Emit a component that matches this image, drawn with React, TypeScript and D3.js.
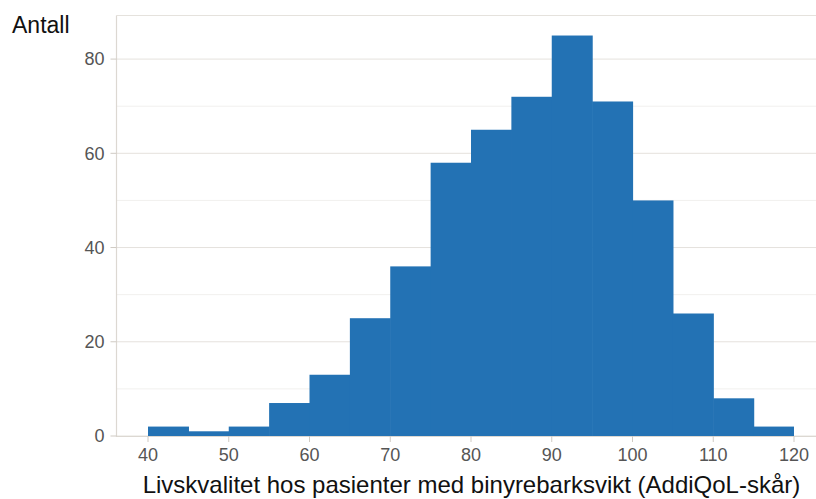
import React from "react";
import * as d3 from "d3";

const binStarts = [40, 45, 50, 55, 60, 65, 70, 75, 80, 85, 90, 95, 100, 105, 110, 115];
const binWidth = 5;
const counts = [2, 1, 2, 7, 13, 25, 36, 58, 65, 72, 85, 71, 50, 26, 8, 2];
const xTicks = [40, 50, 60, 70, 80, 90, 100, 110, 120];
const yTicks = [0, 20, 40, 60, 80];
const yMinor = [10, 30, 50, 70];
const yLabel = "Antall";
const xLabel = "Livskvalitet hos pasienter med binyrebarksvikt (AddiQoL-skår)";

const W = 816;
const H = 499;
const left = 116.5;
const top = 15.5;
const bottom = 436;

export default function App() {
  const x = d3.scaleLinear().domain([40, 120]).range([148, 794]);
  const y = d3.scaleLinear().domain([0, 89.25]).range([bottom, top]);
  const font = "Arial, 'Liberation Sans', Helvetica, sans-serif";
  return (
    <svg width={W} height={H} style={{ position: "absolute", left: 0, top: 0 }} fontFamily={font}>
      <rect width={W} height={H} fill="#fff" />
      {yMinor.map((t) => (
        <line key={"m" + t} x1={left} x2={W} y1={y(t)} y2={y(t)} stroke="#f1f0ee" strokeWidth={1} />
      ))}
      {yTicks.map((t) => (
        <line key={"g" + t} x1={left} x2={W} y1={y(t)} y2={y(t)} stroke="#e5e2dd" strokeWidth={1} />
      ))}
      <line x1={left} x2={W} y1={top} y2={top} stroke="#e5e2dd" strokeWidth={1} />
      {binStarts.map((b, i) => (
        <rect
          key={b}
          x={x(b)}
          width={x(b + binWidth) - x(b) + (i < binStarts.length - 1 ? 0.6 : 0)}
          y={y(counts[i])}
          height={y(0) - y(counts[i])}
          fill="#2372b4"
        />
      ))}
      <line x1={left} x2={left} y1={top} y2={bottom + 1} stroke="#dcd8d2" strokeWidth={1.2} />
      <line x1={left} x2={W} y1={bottom + 0.5} y2={bottom + 0.5} stroke="#dcd8d2" strokeWidth={1.2} />
      {yTicks.map((t) => (
        <g key={"yt" + t}>
          <line x1={left - 6} x2={left} y1={y(t)} y2={y(t)} stroke="#cfcac3" />
          <text x={left - 12} y={y(t)} dy="0.35em" textAnchor="end" fontSize={18} fill="#555">
            {t}
          </text>
        </g>
      ))}
      {xTicks.map((t) => (
        <g key={"xt" + t}>
          <line x1={x(t)} x2={x(t)} y1={bottom} y2={bottom + 6} stroke="#cfcac3" />
          <text x={x(t)} y={bottom + 25} textAnchor="middle" fontSize={18} fill="#555">
            {t}
          </text>
        </g>
      ))}
      <text x={12} y={33} fontSize={23} fill="#111">
        {yLabel}
      </text>
      <text x={471.5} y={493} textAnchor="middle" fontSize={24} fill="#111">
        {xLabel}
      </text>
    </svg>
  );
}
